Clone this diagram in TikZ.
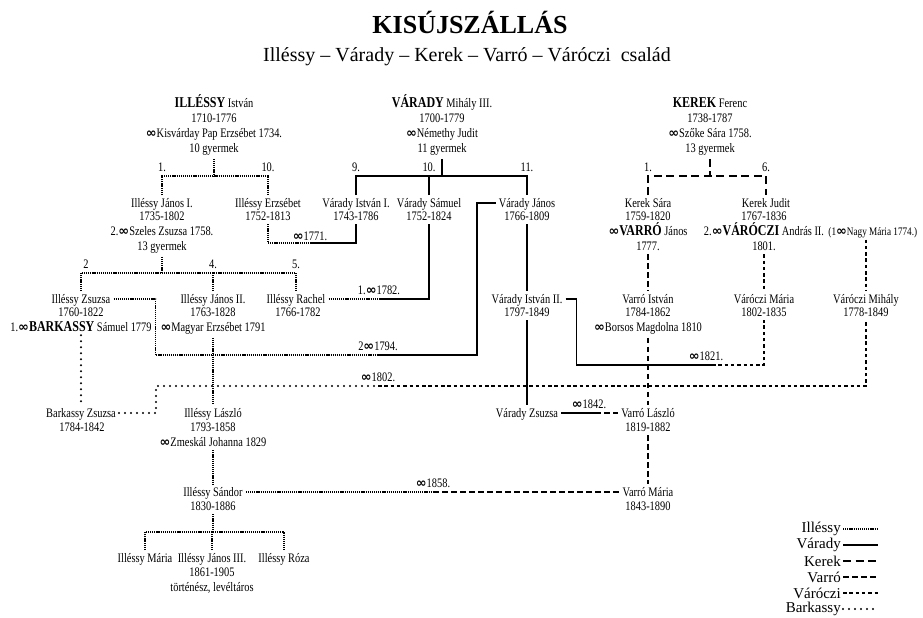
\documentclass[tikz,border=0pt]{standalone}
\usepackage{fontspec}
\setmainfont[FakeStretch=0.8]{Liberation Serif}
\newfontfamily\cimfont{Liberation Serif}
\newfontfamily\jelfont{DejaVu Sans}
\usetikzlibrary{calc}

\newcommand{\hazas}{{\jelfont\bfseries\fontsize{13}{13}\selectfont ∞}}
\newcommand{\csalad}[1]{{\fontsize{15}{15}\selectfont\bfseries #1}}

\tikzset{
  every node/.style={font=\fontsize{13}{15}\selectfont},
  nev/.style={inner xsep=3pt, inner ysep=3pt, text height=9pt, text depth=0.5pt},
  adat/.style={anchor=north, align=center, inner sep=3pt},
  szam/.style={anchor=south, inner sep=0pt, yshift=4pt},
  hazjel/.style={anchor=south, inner sep=0pt, yshift=4pt},
  jelmagy/.style={anchor=east, inner sep=2pt, font=\cimfont\fontsize{15}{16}\selectfont},
  illessy/.style={line width=1.6pt, dash pattern=on 1.2pt off 0.9pt},
  varady/.style={line width=1.6pt},
  kerek/.style={line width=1.6pt, dash pattern=on 8pt off 4.5pt},
  varro/.style={line width=1.6pt, dash pattern=on 5.5pt off 3.5pt},
  varoczi/.style={line width=1.6pt, dash pattern=on 3.5pt off 2.8pt},
  barkassy/.style={line width=2.2pt, line cap=round, dash pattern=on 0pt off 6pt},
}

\begin{document}
\begin{tikzpicture}[x=1pt, y=-1pt]
	\useasboundingbox (0,0) rectangle (923,618);
	%cim
	\node[font=\cimfont\fontsize{26}{30}\selectfont\bfseries] (cim) at (470,22) {KISÚJSZÁLLÁS};
	\node[font=\cimfont\fontsize{20}{24}\selectfont] (alcim) at (467,57) {Illéssy – Várady – Kerek – Varró – Váróczi\ \ család};

	%ILLESSY Istvan
	\node[nev] (ilist) at (214,103) {\csalad{ILLÉSSY} István};
	\node[adat] (ilist-d) at (214,111) {1710-1776\\\hazas Kisvárday Pap Erzsébet 1734.\\10 gyermek};
	%VARADY Mihaly
	\node[nev] (vamih) at (442,103) {\csalad{VÁRADY} Mihály III.};
	\node[adat] (vamih-d) at (442,111) {1700-1779\\\hazas Némethy Judit\\11 gyermek};
	%KEREK Ferenc
	\node[nev] (kefer) at (710,103) {\csalad{KEREK} Ferenc};
	\node[adat] (kefer-d) at (710,111) {1738-1787\\\hazas Szőke Sára 1758.\\13 gyermek};

	%gyerekek
	\node[nev] (iljan1) at (162,203) {Illéssy János I.};
	\node[adat] (iljan1-d) at (162,209) {1735-1802\\2.\hazas Szeles Zsuzsa 1758.\\13 gyermek};
	\node[nev] (ilerz) at (268,203) {Illéssy Erzsébet};
	\node[adat] (ilerz-d) at (268,209) {1752-1813};
	\node[nev] (vaist1) at (356,203) {Várady István I.};
	\node[adat] (vaist1-d) at (356,209) {1743-1786};
	\node[nev] (vasam) at (429,203) {Várady Sámuel};
	\node[adat] (vasam-d) at (429,209) {1752-1824};
	\node[nev] (vajan) at (527,203) {Várady János};
	\node[adat] (vajan-d) at (527,209) {1766-1809};
	\node[nev] (kesar) at (648,203) {Kerek Sára};
	\node[adat] (kesar-d) at (648,209) {1759-1820\\\hazas\csalad{VARRÓ} János\\1777.};
	\node[nev] (kejud) at (766,203) {Kerek Judit};
	\node[adat] (kejud-d) at (764,209) {1767-1836\\2.\hazas\csalad{VÁRÓCZI} András II.\\1801.};
	\node[nev, anchor=west, font=\fontsize{11.5}{13}\selectfont, inner xsep=1pt] (knagy) at (kejud-d.east) {(1\hazas Nagy Mária 1774.)};

	%unokak
	\node[nev] (ilzsu) at (81,299) {Illéssy Zsuzsa};
	\node[adat] (ilzsu-d) at (81,305) {1760-1822\\1.\hazas\csalad{BARKASSY} Sámuel 1779};
	\node[nev] (iljan2) at (213,299) {Illéssy János II.};
	\node[adat] (iljan2-d) at (213,305) {1763-1828\\\hazas Magyar Erzsébet 1791};
	\node[nev] (ilrac) at (296,299) {Illéssy Rachel};
	\node[adat] (ilrac-d) at (298,305) {1766-1782};
	\node[nev] (vaist2) at (527,299) {Várady István II.};
	\node[adat] (vaist2-d) at (527,305) {1797-1849};
	\node[nev] (vrist) at (648,299) {Varró István};
	\node[adat] (vrist-d) at (648,305) {1784-1862\\\hazas Borsos Magdolna 1810};
	\node[nev] (vomar) at (764,299) {Váróczi Mária};
	\node[adat] (vomar-d) at (764,305) {1802-1835};
	\node[nev] (vomih) at (866,299) {Váróczi Mihály};
	\node[adat] (vomih-d) at (866,305) {1778-1849};

	\node[nev] (bazsu) at (81,413) {Barkassy Zsuzsa};
	\node[adat] (bazsu-d) at (82,420) {1784-1842};
	\node[nev] (illas) at (213,413) {Illéssy László};
	\node[adat] (illas-d) at (213,420) {1793-1858\\\hazas Zmeskál Johanna 1829};
	\node[nev] (vazsu) at (527,413) {Várady Zsuzsa};
	\node[nev] (vrlas) at (648,413) {Varró László};
	\node[adat] (vrlas-d) at (648,420) {1819-1882};

	\node[nev] (ilsan) at (213,492) {Illéssy Sándor};
	\node[adat] (ilsan-d) at (213,499) {1830-1886};
	\node[nev] (vrmar) at (648,492) {Varró Mária};
	\node[adat] (vrmar-d) at (648,499) {1843-1890};

	\node[nev] (ilmar) at (145,558) {Illéssy Mária};
	\node[nev] (iljan3) at (212,558) {Illéssy János III.};
	\node[adat] (iljan3-d) at (212,565) {1861-1905\\történész, levéltáros};
	\node[nev] (ilroz) at (284,558) {Illéssy Róza};

	%testverek
	\coordinate (ibar) at (214,176);
	\draw[illessy] (ilist-d.south) -- (ilist-d.south |- ibar);
	\draw[illessy] (iljan1.north) |- (ibar) -| (ilerz.north);
	\node[szam] (sz-i1) at (iljan1.north |- ibar) {1.};
	\node[szam] (sz-i10) at (ilerz.north |- ibar) {10.};

	\coordinate (vbar) at (442,176);
	\draw[varady] (vamih-d.south) -- (vbar);
	\draw[varady] (vaist1.north) |- (vbar) -| (vajan.north);
	\draw[varady] (vasam.north) -- (vasam.north |- vbar);
	\node[szam] (sz-v9) at (vaist1.north |- vbar) {9.};
	\node[szam] (sz-v10) at (vasam.north |- vbar) {10.};
	\node[szam] (sz-v11) at (vajan.north |- vbar) {11.};

	\coordinate (kbar) at (710,176);
	\draw[kerek] (kefer-d.south) -- (kbar);
	\draw[kerek] (kesar.north) |- (kbar) -| (kejud.north);
	\node[szam] (sz-k1) at (kesar.north |- kbar) {1.};
	\node[szam] (sz-k6) at (kejud.north |- kbar) {6.};

	\coordinate (jbar) at (213,273);
	\draw[illessy] (iljan1-d.south) -- (iljan1-d.south |- jbar);
	\draw[illessy] (ilzsu.north) |- (jbar) -| (ilrac.north);
	\draw[illessy] (iljan2.north) -- (iljan2.north |- jbar);
	\node[szam, xshift=5pt] (sz-j2) at (ilzsu.north |- jbar) {2};
	\node[szam] (sz-j4) at (iljan2.north |- jbar) {4.};
	\node[szam] (sz-j5) at (ilrac.north |- jbar) {5.};

	\coordinate (sbar) at (213,532);
	\draw[illessy] (ilsan-d.south) -- (sbar);
	\draw[illessy] (ilmar.north) |- (sbar) -| (ilroz.north);
	\draw[illessy] (iljan3.north) -- (iljan3.north |- sbar);

	%leszarmazas
	\draw[illessy] (iljan2-d.south) -- (illas.north);
	\draw[illessy] (illas-d.south) -- (ilsan.north);
	\draw[barkassy] (ilzsu-d.south) -- (bazsu.north);
	\draw[varady] (vajan-d.south) -- (vaist2.north);
	\draw[varady] (vaist2-d.south) -- (vazsu.north);
	\draw[varro] (kesar-d.south) -- (vrist.north);
	\draw[varro] (vrist-d.south) -- (vrlas.north);
	\draw[varro] (vrlas-d.south) -- (vrmar.north);
	\draw[varoczi] (kejud-d.south) -- (vomar.north);
	\draw[varoczi] (vomih.north |- knagy.south) -- (vomih.north);

	%hazassagok
	\coordinate (h1771) at (310,243);
	\draw[illessy] (ilerz-d.south) |- (h1771);
	\draw[varady] (h1771) -| (vaist1-d.south);
	\node[hazjel, yshift=-2pt] (l1771) at (h1771) {\hazas1771.};

	\coordinate (h1782) at (379,299);
	\draw[illessy] (ilrac.east) -- (h1782);
	\draw[varady] (h1782) -| (vasam-d.south);
	\node[hazjel] (l1782) at (h1782) {1.\hazas1782.};

	\coordinate (h1794) at (378,355);
	\draw[illessy] (ilzsu.east) -- ++(42,0) |- (h1794);
	\draw[varady] (h1794) -- ++(99,0) |- (vajan.west);
	\node[hazjel] (l1794) at (h1794) {2\hazas1794.};

	\coordinate (h1821) at (712,365);
	\draw[varady] (vaist2.east) -- ++(11,0) |- (h1821);
	\draw[varoczi] (h1821) -| (vomar-d.south);
	\node[hazjel, xshift=-6pt] (l1821) at (h1821) {\hazas1821.};

	\coordinate (h1802) at (378,386);
	\draw[barkassy] (bazsu.east) -- ++(37,0) |- (h1802);
	\draw[varoczi] (h1802) -| (vomih-d.south);
	\node[hazjel] (l1802) at (h1802) {\hazas1802.};

	\coordinate (h1842) at (595,413);
	\draw[varady] (vazsu.east) -- (h1842);
	\draw[varro] (h1842) -- (vrlas.west);
	\node[hazjel, xshift=-6pt] (l1842) at (h1842) {\hazas1842.};

	\coordinate (h1858) at (433,492);
	\draw[illessy] (ilsan.east) -- (h1858);
	\draw[varro] (h1858) -- (vrmar.west);
	\node[hazjel] (l1858) at (h1858) {\hazas1858.};

	%jelmagyarazat
	\foreach \csnev/\stil [count=\i] in {Illéssy/illessy, Várady/varady, Kerek/kerek, Varró/varro, Váróczi/varoczi, Barkassy/barkassy}{
		\node[jelmagy] (jel\i) at (843,513+16*\i) {\csnev};
		\draw[\stil] (jel\i.east) -- ++(35,0);
	}
\end{tikzpicture}
\end{document}
